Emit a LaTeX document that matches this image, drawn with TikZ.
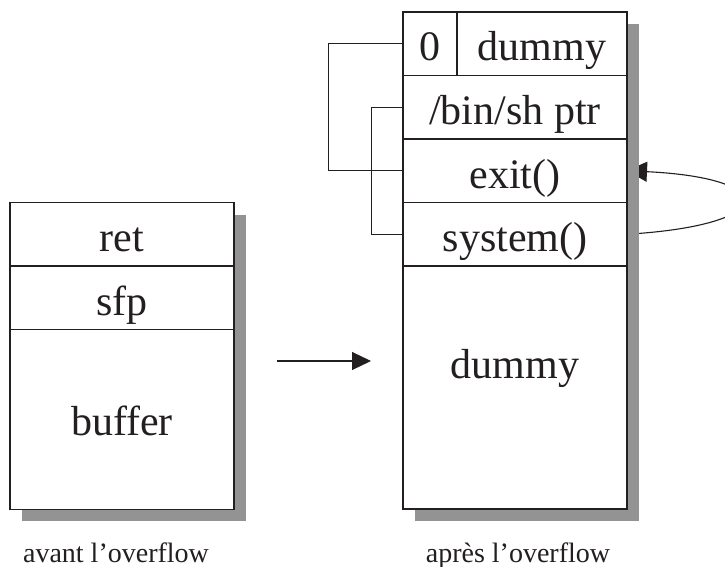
\documentclass[tikz,border=0pt]{standalone}
\usepackage{fontspec}
\setmainfont{Liberation Serif}
\usetikzlibrary{arrows.meta}
\definecolor{ink}{RGB}{35,31,32}
\definecolor{shade}{RGB}{147,147,147}
\begin{document}
\begin{tikzpicture}[x=1pt,y=-1pt,
  cell/.style={draw=ink, fill=white, line width=1.1pt, inner sep=0pt,
    minimum width=#1, text=ink, text height=49pt, text depth=14.5pt,
    font=\fontsize{42}{50}\selectfont},
  bigcell/.style 2 args={draw=ink, fill=white, line width=1.1pt, inner sep=0pt,
    minimum width=224pt, text=ink, text height=#1, text depth=#2,
    font=\fontsize{42}{50}\selectfont},
  caption/.style={anchor=base, text=ink, inner sep=0pt, font=\fontsize{28}{34}\selectfont},
  link/.style={draw=ink, line width=1.1pt},
  shadowbox/.style={fill=shade}]
\useasboundingbox (0,0) rectangle (725,567);
\clip (0,0) rectangle (725,567);
\fill[white] (0,0) rectangle (725,567);

% curved arrow (under the shadow)
\coordinate (sysE) at (627,234.25);
\coordinate (exitE) at (627,170.75);
\draw[link, -{Triangle[length=20pt,width=20pt]}] (sysE) .. controls (780,225) and (780,178) .. (exitE);

% shadows
\fill[shadowbox] (22,214.5) rectangle (246,521);
\fill[shadowbox] (415,24) rectangle (639,521);

% left column
\node[cell=224pt] (ret) at (122,234.25) {ret};
\node[cell=224pt] (sfp) at (122,297.75) {sfp};
\node[bigcell={105.5pt}{74.5pt}] (buffer) at (122,419.5) {buffer};

% right column
\node[cell=54pt] (zero) at (430,43.75) {0};
\node[cell=170pt] (dtop) at (542,43.75) {dummy};
\node[cell=224pt] (binsh) at (515,107.25) {/bin/sh ptr};
\node[cell=224pt] (exit) at (515,170.75) {exit()};
\node[cell=224pt] (sys) at (515,234.25) {system()};
\node[bigcell={112pt}{131pt}] (dbig) at (515,387.5) {dummy};

% pointer links
\draw[link] (zero.west) -- ++(-74,0) |- (exit.west);
\draw[link] (binsh.west) -- ++(-31,0) |- (sys.west);

% transition arrow
\coordinate (a1) at (277,361);
\coordinate (a2) at (371,361);
\draw[link, -{Triangle[length=19pt,width=18pt]}] (a1) -- (a2);

% captions
\node[caption] (cap1) at (116,562) {avant l’overflow};
\node[caption] (cap2) at (518,562) {après l’overflow};
\end{tikzpicture}
\end{document}
